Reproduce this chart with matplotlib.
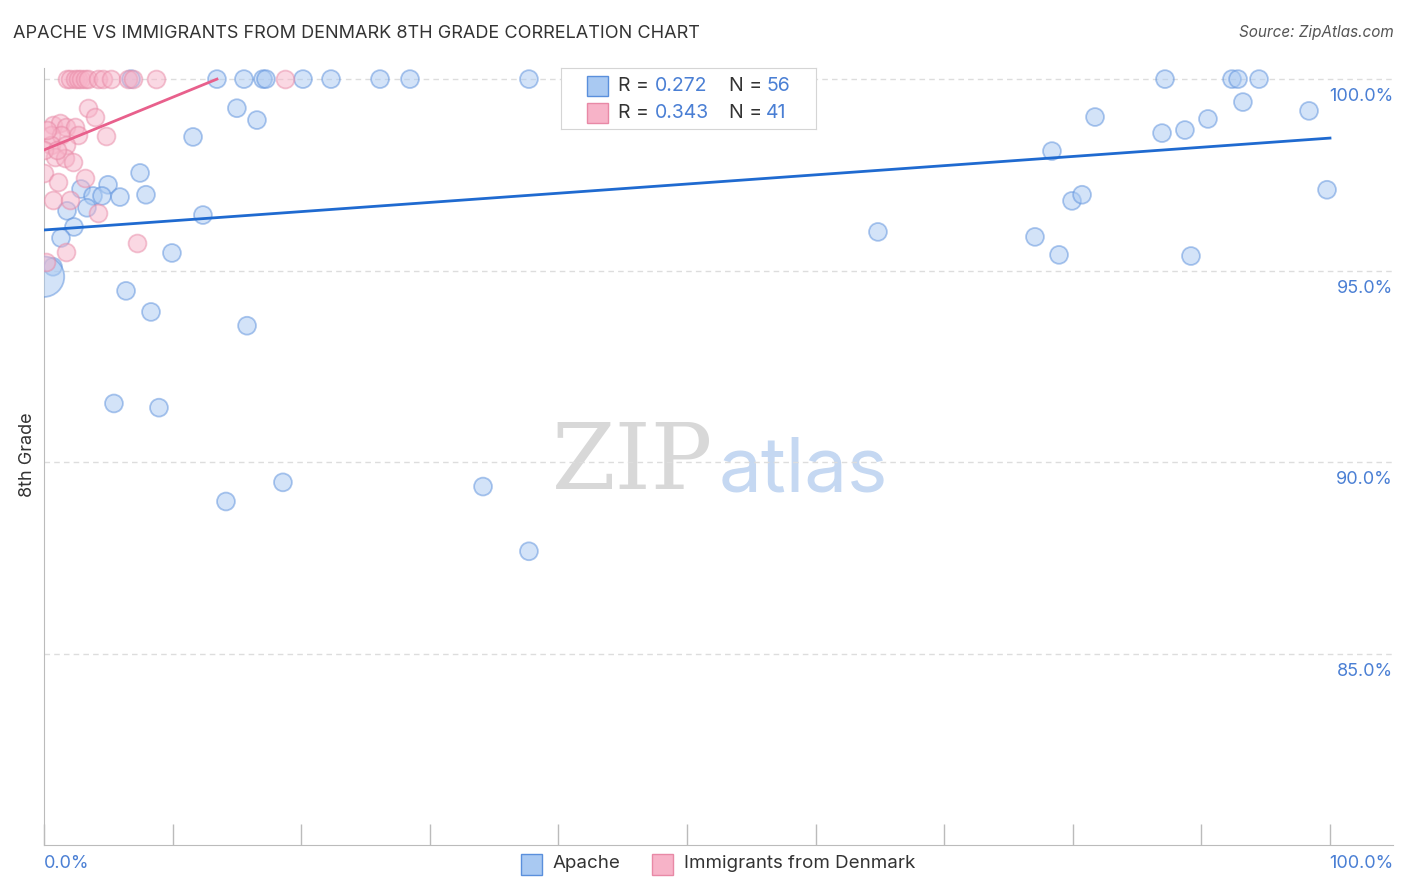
import matplotlib.pyplot as plt
import numpy as np

plt.rcParams['font.family'] = ['Inter', 'DejaVu Sans']

# Apache (x %, 8th grade %)
apache_x = [6.77, 13.45, 15.55, 17.03, 17.26, 20.14, 22.32, 26.13, 28.46, 37.71, 43.0,
            87.17, 92.38, 92.85, 94.48,
            15.0, 11.59, 16.56, 7.47, 2.88, 4.98, 3.81, 4.51, 5.91, 7.93, 1.79, 3.34,
            12.36, 2.33, 1.32, 9.95, 0.70, 0.0, 6.38, 8.32, 15.79, 5.44, 8.94, 14.15,
            18.58, 34.14, 37.71, 64.85, 77.06, 78.93, 79.94, 80.72, 78.38, 81.73, 86.94,
            88.72, 90.51, 93.23, 98.37, 89.19, 99.77]
apache_y = [100.0, 100.0, 100.0, 100.0, 100.0, 100.0, 100.0, 100.0, 100.0, 100.0, 99.9,
            100.0, 100.0, 100.0, 100.0,
            99.24, 98.49, 98.93, 97.55, 97.13, 97.24, 96.95, 96.95, 96.92, 96.98, 96.56, 96.64,
            96.45, 96.14, 95.85, 95.46, 95.10, 94.84, 94.47, 93.92, 93.56, 91.53, 91.42, 88.97,
            89.47, 89.36, 87.67, 96.01, 95.88, 95.41, 96.82, 96.98, 98.12, 99.01, 98.59,
            98.67, 98.96, 99.40, 99.17, 95.38, 97.11]
apache_big = 32  # index of the large bubble

# Immigrants from Denmark
denmark_x = [1.79, 2.02, 2.41, 2.64, 2.88, 3.19, 3.42, 4.2, 4.59, 5.21, 6.53, 6.92, 8.71, 18.74,
             3.42, 3.97, 4.82, 0.70, 1.24, 1.71, 2.41, 0.54, 1.32, 2.64, 0.54, 1.71, 0.86,
             1.63, 2.26, 0.0, 1.09, 3.19, 0.70, 2.02, 4.20, 7.23, 1.71, 0.16, 0.23, 0.0, 1.01]
denmark_y = [100.0] * 14 + \
            [99.24, 99.01, 98.51, 98.80, 98.85, 98.75, 98.75, 98.54, 98.54, 98.54, 98.28, 98.28,
             97.97, 97.94, 97.84, 97.55, 97.31, 97.42, 96.84, 96.84, 96.51, 95.72, 95.49, 95.23,
             98.67, 98.15, 98.15]

blue_line = ([0, 100], [96.06, 98.46])
pink_line = ([0, 13.45], [98.15, 100.0])

blue_face = '#a9c9f2'
blue_edge = '#5a8fdc'
pink_face = '#f7b3c8'
pink_edge = '#e889a6'
label_blue = '#4a7fd4'

W, H = 1406, 892
fig = plt.figure(figsize=(W / 100, H / 100), dpi=100)
ax = fig.add_axes([44 / W, 1 - 845 / H, (1393 - 44) / W, (845 - 68) / H])

sizes = [165] * len(apache_x)
sizes[apache_big] = 850
ax.scatter(apache_x, apache_y, s=sizes, facecolor=blue_face, edgecolor=blue_edge,
           alpha=0.5, linewidth=1.3, zorder=3)
ax.scatter(denmark_x, denmark_y, s=165, facecolor=pink_face, edgecolor=pink_edge,
           alpha=0.5, linewidth=1.3, zorder=3)
ax.plot(*blue_line, color='#1f6ad0', lw=2, zorder=4)
ax.plot(*pink_line, color='#e8608c', lw=2, zorder=4)

ax.set_xlim(0, 104.9)
ax.set_ylim(80, 100.29)

for v in [85, 90, 95, 100]:
    ax.axhline(v, color='#dddddd', lw=1, ls=(0, (4, 3)), zorder=1)
    ax.text(1.0, (v - 80) / 20.29 - 0.023, f'{v:.1f}%', transform=ax.transAxes,
            ha='right', va='center', color=label_blue, fontsize=13)

for s in ['top', 'right']:
    ax.spines[s].set_visible(False)
ax.spines['left'].set_color('#bbbbbb')
ax.spines['bottom'].set_color('#bbbbbb')
ax.set_xticks(np.arange(0, 101, 10))
ax.set_xticklabels([])
ax.set_yticks([])
ax.tick_params(axis='x', direction='in', length=15, color='#bbbbbb', width=1)

fig.text(44 / W, 1 - 864 / H, '0.0%', color=label_blue, fontsize=13, ha='left', va='center')
fig.text(1393 / W, 1 - 864 / H, '100.0%', color=label_blue, fontsize=13, ha='right', va='center')

fig.text(13 / W, 1 - 33 / H, 'APACHE VS IMMIGRANTS FROM DENMARK 8TH GRADE CORRELATION CHART',
         fontsize=13, color='#333333', ha='left', va='center')
fig.text(1394 / W, 1 - 33 / H, 'Source: ZipAtlas.com', fontsize=11, color='#555555',
         ha='right', va='center', style='italic')
fig.text(27 / W, 1 - 455 / H, '8th Grade', fontsize=13, color='#333333', rotation=90,
         ha='center', va='center')

# watermark
ax.text(0.436, 0.49, 'ZIP', transform=ax.transAxes, fontsize=66, color='#d8d8d8',
        family='DejaVu Serif', ha='center', va='center', zorder=0)
ax.text(0.563, 0.48, 'atlas', transform=ax.transAxes, fontsize=55, color='#c5d8f2',
        ha='center', va='center', zorder=0)

# top legend box
lg = fig.add_axes([561 / W, 1 - 129 / H, (816 - 561) / W, (129 - 68) / H])
lg.set_xlim(561, 816)
lg.set_ylim(129, 68)
lg.set_xticks([])
lg.set_yticks([])
for s in lg.spines.values():
    s.set_color('#d5d5d5')
rows = [(86, blue_face, blue_edge, '0.272', '56'), (113, pink_face, pink_edge, '0.343', '41')]
for yy, fc, ec, r, n in rows:
    lg.add_patch(plt.Rectangle((587, yy - 10), 21, 20, facecolor=fc, edgecolor=ec, lw=1))
    lg.text(618, yy, 'R = ', fontsize=14, color='#333333', va='center')
    lg.text(655, yy, r, fontsize=14, color=label_blue, va='center')
    lg.text(729, yy, 'N = ', fontsize=14, color='#333333', va='center')
    lg.text(766, yy, n, fontsize=14, color=label_blue, va='center')

# bottom legend
for x0, fc, ec, name in [(521, blue_face, blue_edge, 'Apache'),
                         (652, pink_face, pink_edge, 'Immigrants from Denmark')]:
    fig.patches.append(plt.Rectangle((x0 / W, 1 - 875 / H), 21 / W, 21 / H, facecolor=fc,
                                     edgecolor=ec, lw=1, transform=fig.transFigure))
    fig.text((x0 + 32) / W, 1 - 864 / H, name, fontsize=13.5, color='#333333', va='center')

fig.savefig('out.png', dpi=100)
